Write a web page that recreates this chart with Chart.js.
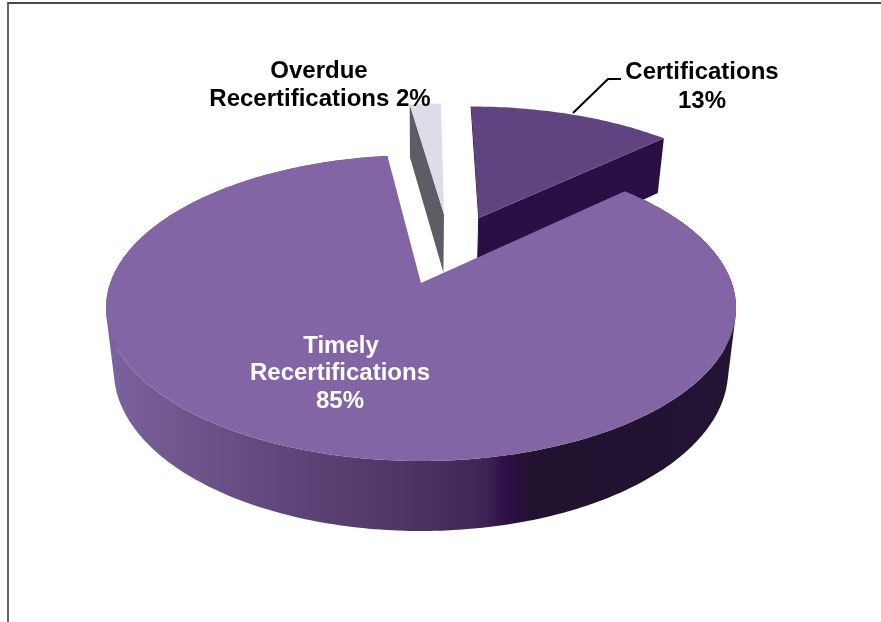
<!DOCTYPE html>
<html>
<head>
<meta charset="utf-8">
<style>
html,body{margin:0;padding:0;background:#fff;overflow:hidden}
#wrap{position:relative;width:881px;height:622px}
#frame{position:absolute;left:7px;top:2px;right:0;bottom:0;border-top:2px solid #4a4a4a;border-left:2px solid #666}
canvas{position:absolute;left:0;top:0}
</style>
<script src="https://cdn.jsdelivr.net/npm/chart.js@4/dist/chart.umd.min.js"></script>
</head>
<body>
<div id="wrap"><div id="frame"></div><canvas id="c" width="881" height="622"></canvas></div>
<script>
const categories = ['Certifications', 'Timely Recertifications', 'Overdue Recertifications'];
const shares = [13, 85, 2];
const topColors = ['#604480', '#8365a6', '#e0dbe9'];
const cutColors = ['#2a0f45', '#2a0f45', '#5f5c66'];

// Perspective of the tilted pie: unit-disc coordinates -> screen
const K = 0.1634;
const TOP = {cx: 421, cy: 283, a: 310.8, b: 148.9};
const BOT = {cx: 421, cy: 344.5, a: 303, b: 156};
const EXPLODE = [[0.20, 0.47], [0, 0], [0.08, 0.5]];

function proj(P, u, v) {
  const w = 1 + K * v;
  return [P.cx + P.a * u / w, P.cy - P.b * v / w];
}
function ring(P, arc, off, n) {
  const pts = [];
  for (let i = 0; i <= n; i++) {
    const t = arc.startAngle + (arc.endAngle - arc.startAngle) * i / n;
    pts.push(proj(P, Math.cos(t) + off[0], -Math.sin(t) + off[1]));
  }
  return pts;
}
function poly(ctx, pts, fill) {
  ctx.beginPath();
  pts.forEach((p, i) => i ? ctx.lineTo(p[0], p[1]) : ctx.moveTo(p[0], p[1]));
  ctx.closePath();
  ctx.fillStyle = fill;
  ctx.fill();
}
function rimGradient(ctx) {
  const g = ctx.createLinearGradient(106, 0, 736, 0);
  [[0, '#7d63a0'], [0.1, '#72588f'], [0.3, '#5f4479'], [0.45, '#503768'], [0.6, '#3d2655'],
   [0.635, '#2e0f46'], [0.68, '#21122f'], [1, '#231335']].forEach(s => g.addColorStop(s[0], s[1]));
  return g;
}
function drawRim(ctx, topR, botR) {
  // One path of same-wound quads, so the outline stays filled where the rim turns
  ctx.beginPath();
  for (let k = 0; k < topR.length - 1; k++) {
    let q = [topR[k], topR[k + 1], botR[k + 1], botR[k]];
    let area = 0;
    q.forEach((p, j) => { const r = q[(j + 1) % 4]; area += p[0] * r[1] - r[0] * p[1]; });
    if (area < 0) q = q.reverse();
    q.forEach((p, j) => j ? ctx.lineTo(p[0], p[1]) : ctx.moveTo(p[0], p[1]));
    ctx.closePath();
  }
  ctx.fillStyle = rimGradient(ctx);
  ctx.fill('nonzero');
}
function drawSlice(ctx, arc, i) {
  const off = EXPLODE[i];
  const n = Math.max(6, Math.round((arc.endAngle - arc.startAngle) * 60));
  const topR = ring(TOP, arc, off, n), botR = ring(BOT, arc, off, n);
  const topC = proj(TOP, off[0], off[1]), botC = proj(BOT, off[0], off[1]);
  if (i === 0) {
    // right-hand cut face of the exploded slice, thin dark edge on the left
    poly(ctx, [topC, topR[n], botR[n], botC], cutColors[i]);
    ctx.strokeStyle = cutColors[i]; ctx.lineWidth = 1;
    ctx.beginPath(); ctx.moveTo(topR[0][0], topR[0][1]); ctx.lineTo(topC[0], topC[1]); ctx.lineTo(botC[0], botC[1]); ctx.stroke();
  } else if (i === 2) {
    poly(ctx, [topC, topR[0], botR[0], botC], cutColors[i]);
  } else {
    drawRim(ctx, topR, botR);
  }
  poly(ctx, [topC].concat(topR), topColors[i]);
}

const pie3d = {
  id: 'pie3d',
  beforeDatasetsDraw(chart) {
    const ctx = chart.ctx, arcs = chart.getDatasetMeta(0).data;
    ctx.save();
    [2, 0, 1].forEach(i => drawSlice(ctx, arcs[i], i));
    ctx.restore();
    return false;
  },
  afterDraw(chart) {
    const ctx = chart.ctx;
    ctx.save();
    ctx.strokeStyle = '#000'; ctx.lineWidth = 2;
    ctx.beginPath(); ctx.moveTo(621, 79); ctx.lineTo(608, 79); ctx.lineTo(573, 113); ctx.stroke();
    ctx.font = 'bold 24px "Liberation Sans", Arial, sans-serif';
    ctx.textAlign = 'center'; ctx.textBaseline = 'middle';
    const put = (s, x, y, col) => { ctx.fillStyle = col; ctx.fillText(s, x, y); };
    const d = chart.data, v = d.datasets[0].data;
    put(d.labels[0], 702, 72, '#000');
    put(v[0] + '%', 702, 101, '#000');
    const ov = d.labels[2].split(' ');
    put(ov[0], 319, 71, '#000');
    put(ov[1] + ' ' + v[2] + '%', 320, 99, '#000');
    const ti = d.labels[1].split(' ');
    put(ti[0], 341, 346, '#fff');
    put(ti[1], 340, 373, '#fff');
    put(v[1] + '%', 340, 401, '#fff');
    ctx.restore();
  }
};

new Chart(document.getElementById('c'), {
  type: 'pie',
  data: {labels: categories, datasets: [{data: shares, backgroundColor: topColors, borderWidth: 0}]},
  options: {
    responsive: false,
    animation: false,
    plugins: {legend: {display: false}, tooltip: {enabled: false}}
  },
  plugins: [pie3d]
});
</script>
</body>
</html>
